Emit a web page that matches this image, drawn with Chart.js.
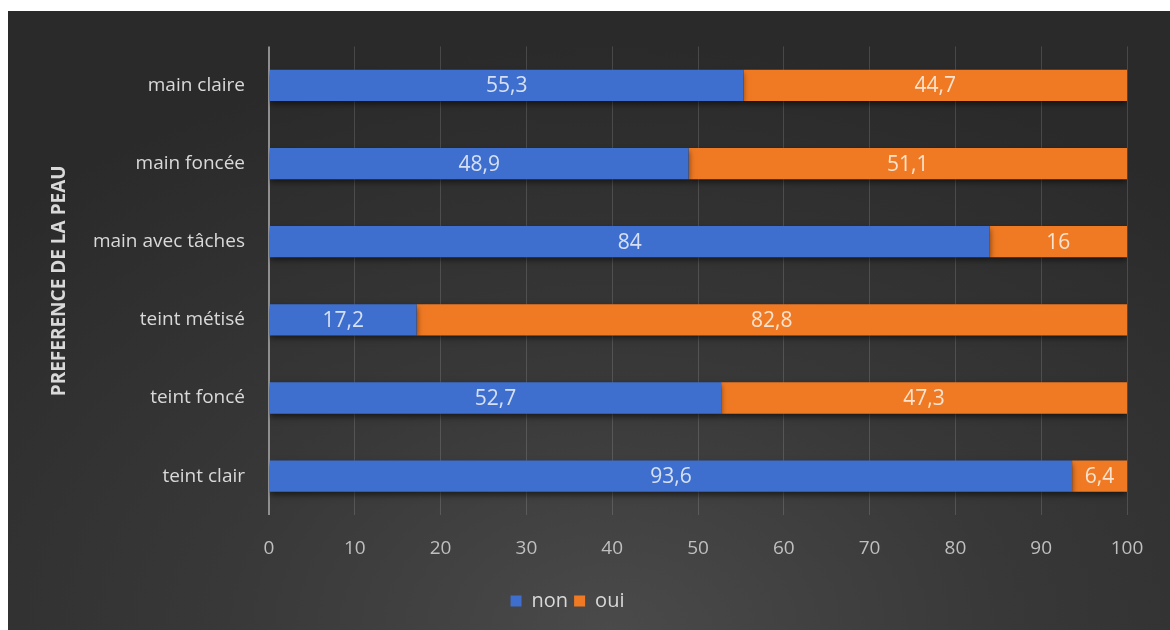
<!DOCTYPE html>
<html>
<head>
<meta charset="utf-8">
<script src="https://cdn.jsdelivr.net/npm/chart.js@4/dist/chart.umd.min.js"></script>
<style>
  html, body { margin: 0; padding: 0; background: #fff; }
  .box {
    position: absolute; left: 8px; top: 11px; width: 1162px; height: 619px;
    background: radial-gradient(ellipse 75% 95% at 52% 100%, #4a4a4a 0%, #383838 45%, #2a2a2a 100%);
  }
</style>
</head>
<body>
<div class="box"><canvas id="chart" width="1162" height="619"></canvas></div>
<script>
const categories = ['main claire', 'main foncée', 'main avec tâches', 'teint métisé', 'teint foncé', 'teint clair']
const nonValues = [55.3, 48.9, 84, 17.2, 52.7, 93.6]
const ouiValues = [44.7, 51.1, 16, 82.8, 47.3, 6.4]
const xTicks = [0, 10, 20, 30, 40, 50, 60, 70, 80, 90, 100]

const font = '"Open Sans", Lato, sans-serif'
const fmt = v => String(v).replace('.', ',')

// soft shadow under the bars
const barShadow = {
  id: 'barShadow',
  beforeDatasetsDraw(chart) {
    const ctx = chart.ctx
    ctx.save()
    ctx.shadowColor = 'rgba(0,0,0,0.55)'
    ctx.shadowBlur = 6
    ctx.shadowOffsetY = 3
  },
  afterDatasetsDraw(chart) {
    chart.ctx.restore()
  }
}

// value written in the middle of each segment
const segmentLabels = {
  id: 'segmentLabels',
  afterDraw(chart) {
    const ctx = chart.ctx
    ctx.save()
    ctx.font = '21px ' + font
    ctx.textAlign = 'center'
    ctx.textBaseline = 'middle'
    chart.data.datasets.forEach((ds, i) => {
      chart.getDatasetMeta(i).data.forEach((bar, j) => {
        const x = (bar.x + bar.base) / 2
        ctx.fillStyle = i === 0 ? '#d6e0f2' : '#fbe3cf'
        ctx.fillText(fmt(ds.data[j]), x, bar.y + 1)
      })
    })
    ctx.restore()
  }
}

new Chart(document.getElementById('chart'), {
  type: 'bar',
  data: {
    labels: categories,
    datasets: [
      { label: 'non', data: nonValues, backgroundColor: '#3e6fcf' },
      { label: 'oui', data: ouiValues, backgroundColor: '#f07a24' }
    ]
  },
  options: {
    indexAxis: 'y',
    responsive: false,
    animation: false,
    datasets: { bar: { barPercentage: 0.4, categoryPercentage: 1 } },
    layout: { padding: { left: 0, right: 43, top: 26, bottom: 9 } },
    scales: {
      x: {
        stacked: true,
        min: 0,
        max: 100,
        afterBuildTicks: s => { s.ticks = xTicks.map(v => ({ value: v })) },
        afterFit: s => { s.height += 3 },
        ticks: { color: '#bfbfbf', font: { family: font, size: 19 }, padding: 22 },
        grid: {
          drawTicks: false,
          color: c => c.tick && c.tick.value === 0 ? '#8f8f8f' : 'rgba(255,255,255,0.14)',
          lineWidth: c => c.tick && c.tick.value === 0 ? 2 : 1
        },
        border: { display: false }
      },
      y: {
        stacked: true,
        afterFit: s => { s.width = 261 },
        ticks: { color: '#d9d9d9', font: { family: font, size: 19 }, padding: 24 },
        grid: { display: false, drawTicks: false },
        border: { display: false },
        title: {
          display: true,
          text: 'PREFERENCE DE LA PEAU',
          color: '#d9d9d9',
          font: { family: font, size: 19, weight: 'bold' },
          padding: { top: 40, bottom: 0 }
        }
      }
    },
    plugins: {
      legend: {
        position: 'bottom',
        labels: {
          color: '#d9d9d9',
          font: { family: font, size: 20 },
          boxWidth: 11,
          boxHeight: 11,
          padding: 6
        }
      },
      tooltip: { enabled: false }
    }
  },
  plugins: [barShadow, segmentLabels]
})
</script>
</body>
</html>
